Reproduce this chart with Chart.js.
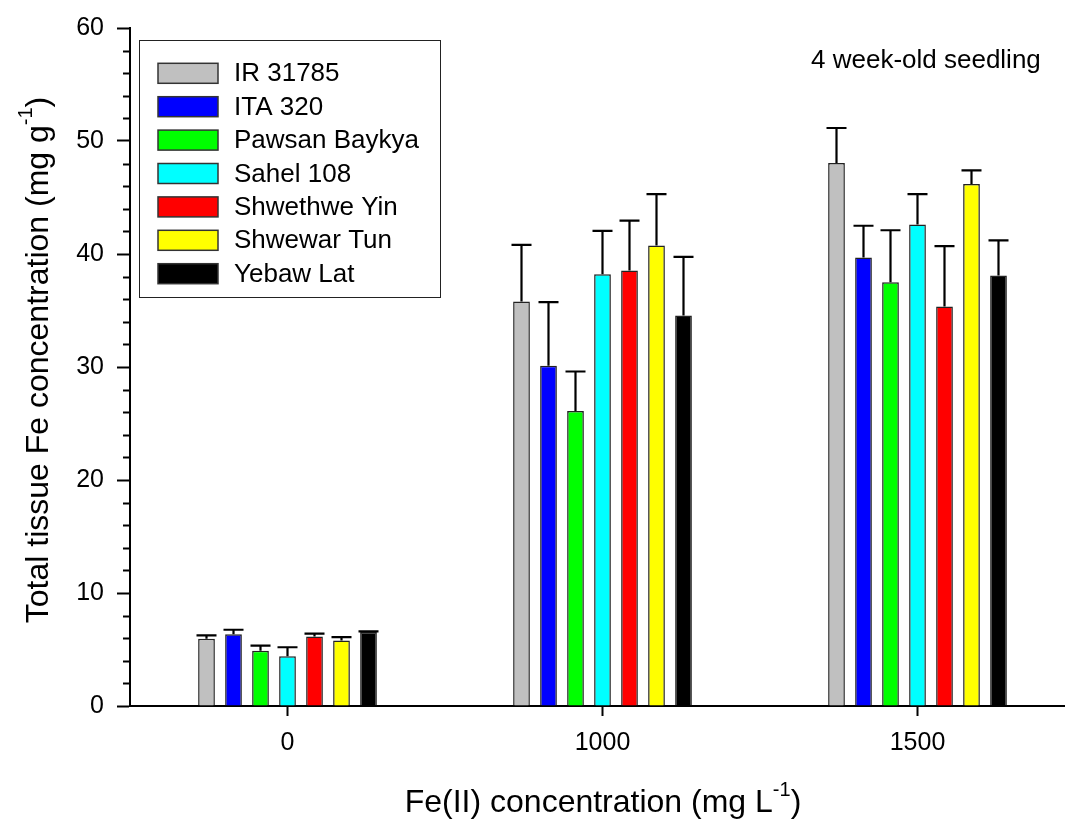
<!DOCTYPE html>
<html>
<head>
<meta charset="utf-8">
<script src="https://cdn.jsdelivr.net/npm/chart.js@4.4.1/dist/chart.umd.min.js"></script>
<style>
html,body{margin:0;padding:0;background:#fff;overflow:hidden;}
#wrap{width:1065px;height:820px;overflow:hidden;}
canvas{display:block;}
</style>
</head>
<body>
<div id="wrap"><canvas id="c" width="1080" height="820"></canvas></div>
<script>
// ---- data ----
const categories = ['0', '1000', '1500'];
const cultivars = ['IR 31785', 'ITA 320', 'Pawsan Baykya', 'Sahel 108', 'Shwethwe Yin', 'Shwewar Tun', 'Yebaw Lat'];
const ir31785      = [5.95, 35.8, 48.05];
const ita320       = [6.35, 30.1, 39.7];
const pawsanBaykya = [4.9, 26.1, 37.5];
const sahel108     = [4.4, 38.2, 42.6];
const shwethweYin  = [6.15, 38.55, 35.35];
const shwewarTun   = [5.8, 40.75, 46.2];
const yebawLat     = [6.55, 34.55, 38.1];
const errIr31785      = [0.3, 5.0, 3.1];
const errIta320       = [0.4, 5.65, 2.8];
const errPawsanBaykya = [0.45, 3.5, 4.6];
const errSahel108     = [0.8, 3.85, 2.7];
const errShwethweYin  = [0.25, 4.4, 5.35];
const errShwewarTun   = [0.3, 4.55, 1.2];
const errYebawLat     = [0.05, 5.2, 3.1];
const yTicks = [0, 10, 20, 30, 40, 50, 60];
const colors = ['#c0c0c0', '#0000ff', '#00ff00', '#00ffff', '#ff0000', '#ffff00', '#000000'];

const seriesValues = [ir31785, ita320, pawsanBaykya, sahel108, shwethweYin, shwewarTun, yebawLat];
const seriesErrors = [errIr31785, errIta320, errPawsanBaykya, errSahel108, errShwethweYin, errShwewarTun, errYebawLat];

const FONT = "'Liberation Sans', Arial, sans-serif";

const datasets = cultivars.map((name, i) => ({
  label: name,
  data: seriesValues[i],
  errors: seriesErrors[i],
  backgroundColor: colors[i],
  borderColor: '#222',
  borderWidth: 1.5,
  categoryPercentage: 0.6,
  barPercentage: 0.62
}));

const errorBars = {
  id: 'errorBars',
  afterDatasetsDraw(chart) {
    const ctx = chart.ctx;
    const y = chart.scales.y;
    ctx.save();
    ctx.strokeStyle = '#000';
    ctx.lineWidth = 2.2;
    chart.data.datasets.forEach((ds, di) => {
      const meta = chart.getDatasetMeta(di);
      meta.data.forEach((bar, j) => {
        const v = ds.data[j], e = ds.errors[j];
        const x = bar.x;
        const y0 = y.getPixelForValue(v);
        const y1 = y.getPixelForValue(v + e);
        ctx.beginPath();
        ctx.moveTo(x, y0);
        ctx.lineTo(x, y1);
        ctx.moveTo(x - 10, y1);
        ctx.lineTo(x + 10, y1);
        ctx.stroke();
      });
    });
    ctx.restore();
  }
};

const decorations = {
  id: 'decorations',
  afterDraw(chart) {
    const ctx = chart.ctx;
    const ys = chart.scales.y;
    const area = chart.chartArea;
    ctx.save();
    // minor ticks
    ctx.strokeStyle = '#000';
    ctx.lineWidth = 2;
    for (let v = 2; v < 60; v += 2) {
      if (v % 10 === 0) continue;
      const py = Math.round(ys.getPixelForValue(v)) + 0.5;
      ctx.beginPath();
      ctx.moveTo(area.left - 7, py);
      ctx.lineTo(area.left, py);
      ctx.stroke();
    }
    // legend
    ctx.lineWidth = 1;
    ctx.strokeStyle = '#222';
    ctx.strokeRect(139.5, 40.5, 301, 257);
    ctx.font = '26px ' + FONT;
    ctx.textBaseline = 'middle';
    ctx.textAlign = 'left';
    chart.data.datasets.forEach((ds, i) => {
      const cy = 73.3 + i * 33.4;
      ctx.fillStyle = ds.backgroundColor;
      ctx.fillRect(158, cy - 10, 60, 20);
      ctx.strokeStyle = '#333';
      ctx.lineWidth = 1.5;
      ctx.strokeRect(158, cy - 10, 60, 20);
      ctx.fillStyle = '#000';
      ctx.fillText(ds.label, 234, cy + 1);
    });
    // annotation
    ctx.font = '26px ' + FONT;
    ctx.fillStyle = '#000';
    ctx.textAlign = 'left';
    ctx.fillText('4 week-old seedling', 811, 61);

    // axis titles with superscripts
    function drawSupText(parts, size) {
      ctx.font = size + 'px ' + FONT;
      const w1 = ctx.measureText(parts[0]).width;
      const w3 = ctx.measureText(parts[2]).width;
      ctx.font = Math.round(size * 0.62) + 'px ' + FONT;
      const w2 = ctx.measureText(parts[1]).width;
      const total = w1 + w2 + w3;
      let x = -total / 2;
      ctx.textAlign = 'left';
      ctx.textBaseline = 'middle';
      ctx.font = size + 'px ' + FONT;
      ctx.fillText(parts[0], x, 0);
      x += w1;
      ctx.font = Math.round(size * 0.62) + 'px ' + FONT;
      ctx.fillText(parts[1], x, -size * 0.38);
      x += w2;
      ctx.font = size + 'px ' + FONT;
      ctx.fillText(parts[2], x, 0);
    }
    ctx.save();
    ctx.translate(603, 803);
    drawSupText(['Fe(II) concentration (mg L', '-1', ')'], 32);
    ctx.restore();
    ctx.save();
    ctx.translate(39, 360);
    ctx.rotate(-Math.PI / 2);
    drawSupText(['Total tissue Fe concentration (mg g', '-1', ')'], 32);
    ctx.restore();
    ctx.restore();
  }
};

new Chart(document.getElementById('c'), {
  type: 'bar',
  data: { labels: categories, datasets },
  options: {
    responsive: false,
    animation: false,
    layout: { padding: { top: 25, right: 5, left: 0, bottom: 0 } },
    plugins: { legend: { display: false }, tooltip: { enabled: false } },
    scales: {
      x: {
        offset: true,
        grid: { offset: false, drawOnChartArea: false, drawTicks: true, tickLength: 10, tickColor: '#000', tickWidth: 2 },
        border: { display: true, color: '#000', width: 2 },
        ticks: { color: '#000', font: { family: FONT, size: 25 }, padding: 12 },
        afterFit(s) { s.height = 114; }
      },
      y: {
        min: 0, max: 60,
        afterBuildTicks(s) { s.ticks = yTicks.map(v => ({ value: v })); },
        grid: { drawOnChartArea: false, drawTicks: true, tickLength: 13, tickColor: '#000', tickWidth: 2 },
        border: { display: true, color: '#000', width: 2 },
        ticks: { color: '#000', font: { family: FONT, size: 25 }, padding: 13 },
        afterFit(s) { s.width = 130; }
      }
    }
  },
  plugins: [errorBars, decorations]
});
</script>
</body>
</html>
